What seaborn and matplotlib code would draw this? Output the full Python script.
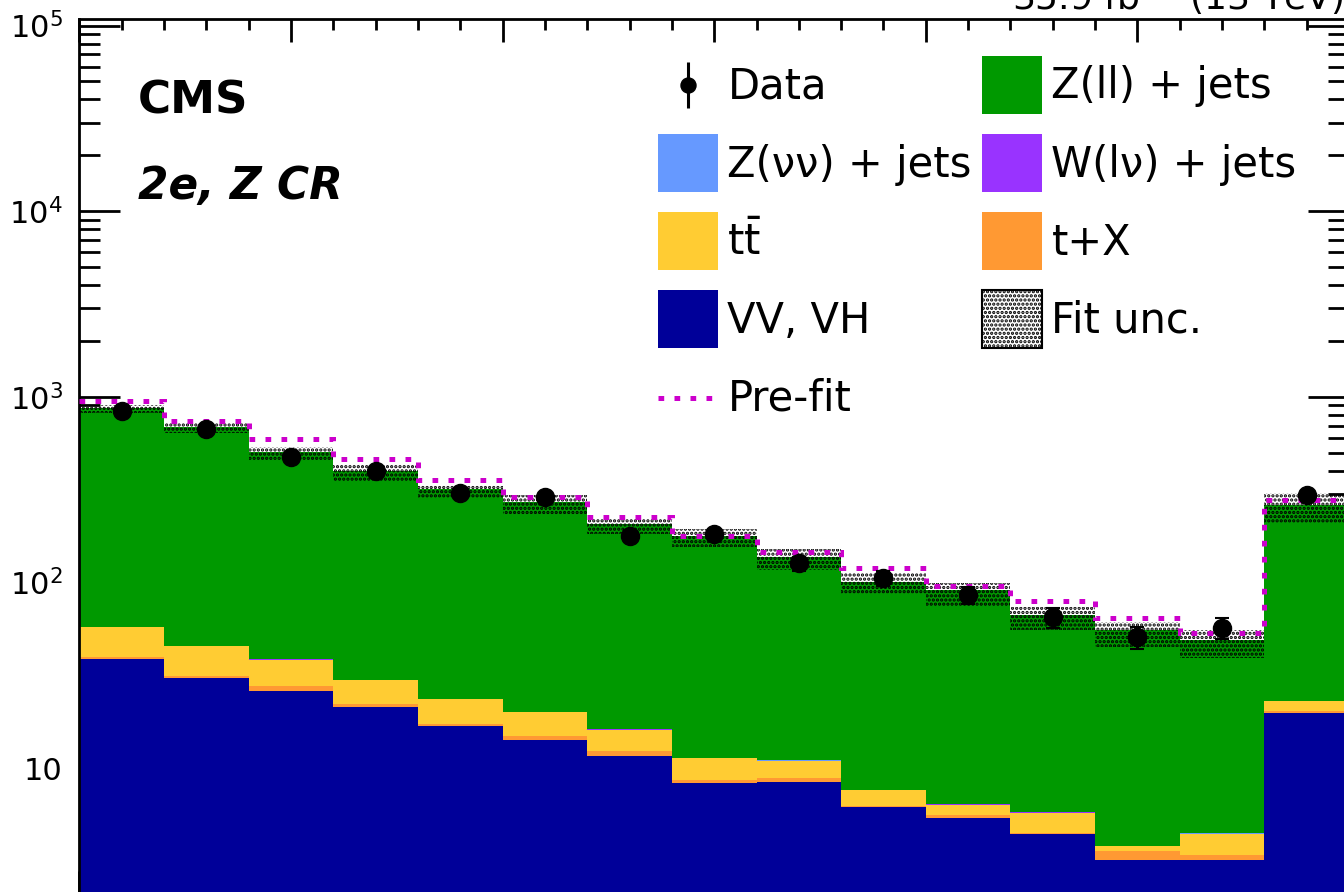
import numpy as np
import pandas as pd
import seaborn as sns
import matplotlib.pyplot as plt
from matplotlib.lines import Line2D
from matplotlib.patches import Patch
from matplotlib.legend_handler import HandlerLine2D
from matplotlib.ticker import FixedLocator, FixedFormatter, LogLocator, MultipleLocator, NullFormatter


# ---- values, one entry per bin (15 bins) ----
vv_vh = [38.6, 30.7, 26.0, 21.4, 16.9, 14.2, 11.7, 8.3, 8.4, 6.2, 5.4, 4.4, 3.2, 3.2, 19.8]
t_x = [1.0, 0.6, 1.6, 0.8, 0.4, 0.8, 0.7, 0.3, 0.5, 0.1, 0.2, 0.1, 0.4, 0.2, 0.5]
ttbar = [17.8, 14.1, 10.8, 7.6, 6.2, 5.1, 3.7, 2.7, 2.1, 1.3, 0.75, 1.25, 0.2, 1.05, 2.7]
w_lnu = [0.2, 0.15, 0.12, 0.1, 0.08, 0.07, 0.06, 0.04, 0.04, 0.03, 0.03, 0.02, 0.01, 0.02, 0.1]
z_nunu = [0.1, 0.08, 0.06, 0.05, 0.04, 0.03, 0.03, 0.02, 0.02, 0.01, 0.01, 0.01, 0.01, 0.01, 0.05]
z_ll = [813, 645, 468, 370, 294, 253, 191, 166, 127, 93, 85, 61, 52, 44.6, 239]

fit_unc_lo = [819, 637, 453, 354, 284, 234, 182, 156, 117, 87, 75, 55.6, 45.2, 39.1, 210]
fit_unc_hi = [905, 721, 539, 430, 335, 296, 219, 194, 151, 113, 100, 74, 61.6, 55.6, 303]
prefit = [954, 742, 591, 461, 356, 289, 226, 179, 147, 120, 96.2, 79.9, 64.7, 53.5, 277.5]

data = [840, 669, 473, 399, 303, 288, 178, 182, 127, 105.5, 85.8, 65.0, 50.8, 57.2, 296]
data_err = [29, 26, 22, 20, 17, 17, 13, 13, 11, 10, 9.3, 8.1, 7.1, 7.6, 17]

ytick_vals = [10, 1e2, 1e3, 1e4, 1e5]
ytick_labels = ["10", "$10^{2}$", "$10^{3}$", "$10^{4}$", "$10^{5}$"]

colors = {
    "Z(ll) + jets": "#009900",
    "W(lν) + jets": "#9933ff",
    "Z(νν) + jets": "#6699ff",
    "tt": "#ffcc33",
    "t+X": "#ff9933",
    "VV, VH": "#000099",
}
# first hue level ends up on top of the seaborn stack
stack_order = ["Z(ll) + jets", "W(lν) + jets", "Z(νν) + jets", "tt", "t+X", "VV, VH"]
stack_values = [z_ll, w_lnu, z_nunu, ttbar, t_x, vv_vh]

n_bins = len(data)
edges = np.arange(n_bins + 1)
centers = edges[:-1] + 0.5

df = pd.concat([pd.DataFrame({"bin": centers, "events": vals, "process": name})
                for name, vals in zip(stack_order, stack_values)], ignore_index=True)


# legend lines sit a bit high by default, put them on the middle of the row
class HandlerCentered(HandlerLine2D):
    def create_artists(self, legend, orig_handle, xdescent, ydescent, width, height, fontsize, trans):
        artists = super().create_artists(legend, orig_handle, xdescent, ydescent,
                                         width, height, fontsize, trans)
        for a in artists:
            a.set_ydata(np.asarray(a.get_ydata()) - ydescent / 2)
        return artists


sns.set_theme(style="ticks")
plt.rcParams["font.family"] = ["DejaVu Sans"]
plt.rcParams["mathtext.fontset"] = "dejavusans"
plt.rcParams["hatch.linewidth"] = 1.6
plt.rcParams.update({"text.color": "black", "axes.labelcolor": "black",
                     "xtick.color": "black", "ytick.color": "black"})

fig = plt.figure(figsize=(13.44, 8.92), dpi=100)
ax = fig.add_axes([0.05908, -0.00224, 0.94464, 0.98094])
ax.set_yscale("log")

# stacked backgrounds
sns.histplot(data=df, x="bin", weights="events", hue="process", hue_order=stack_order,
             multiple="stack", bins=list(edges), element="step", fill=True, alpha=1,
             linewidth=0, palette=colors, legend=False, ax=ax)

# fit uncertainty band, pre-fit line and data
ax.stairs(fit_unc_hi, edges, baseline=fit_unc_lo, fill=True, facecolor="none",
          edgecolor="black", hatch="....", linewidth=0, zorder=3)
prefit_style = dict(color="#cc00cc", linewidth=3.6, linestyle=(0, (1.14, 2.06)))
ax.stairs(prefit, edges, baseline=None, zorder=4, **prefit_style)
ax.errorbar(centers, data, yerr=data_err, fmt="o", color="black", markersize=13,
            elinewidth=2.2, capsize=5, capthick=1.5, zorder=5)

ax.set_xlim(0, n_bins)
ax.set_ylim(2.104, 1.084e5)
ax.set_xlabel("")
ax.set_ylabel("")

ax.xaxis.set_major_locator(MultipleLocator(2.5))
ax.xaxis.set_minor_locator(MultipleLocator(0.5))
ax.yaxis.set_major_locator(FixedLocator(ytick_vals))
ax.yaxis.set_major_formatter(FixedFormatter(ytick_labels))
ax.yaxis.set_minor_locator(LogLocator(base=10, subs=np.arange(2, 10)))
ax.yaxis.set_minor_formatter(NullFormatter())

ax.tick_params(axis="x", which="major", direction="in", length=16.5, width=2,
               top=True, bottom=True, labelbottom=False)
ax.tick_params(axis="x", which="minor", direction="in", length=8, width=2, top=True, bottom=True)
ax.tick_params(axis="y", which="major", direction="in", length=29.5, width=2,
               left=True, right=True, labelsize=22, pad=12)
ax.tick_params(axis="y", which="minor", direction="in", length=15, width=2, left=True, right=True)
for s in ax.spines.values():
    s.set_linewidth(2)
    s.set_color("black")

# labels
fig.text(138 / 1344, 1 - 113.3 / 892, "CMS", fontsize=32.5, fontweight="bold", va="baseline")
fig.text(138 / 1344, 1 - 199 / 892, "2e, Z CR", fontsize=31.5, fontweight="bold",
         style="italic", va="baseline")
fig.text(1343 / 1344, 1 - 10 / 892, r"35.9 fb$^{-1}$ (13 TeV)", fontsize=26,
         ha="right", va="baseline")

# legend in two columns
data_handle = (Line2D([], [], marker="|", markersize=33.6, markeredgewidth=2.2, color="black", linestyle="none"),
               Line2D([], [], marker="o", markersize=10.8, color="black", linestyle="none"))
leg_kw = dict(loc="upper left", bbox_transform=fig.transFigure, frameon=False, fontsize=30,
              handlelength=1.44, handleheight=1.762, labelspacing=0.485, handletextpad=0.22,
              borderpad=0, borderaxespad=0, handler_map={Line2D: HandlerCentered()})

col1_handles = [data_handle,
                Patch(facecolor=colors["Z(νν) + jets"], edgecolor="none"),
                Patch(facecolor=colors["tt"], edgecolor="none"),
                Patch(facecolor=colors["VV, VH"], edgecolor="none"),
                Line2D([], [], **prefit_style)]
col1_labels = ["Data", "Z(νν) + jets", r"t$\bar{\mathrm{t}}$", "VV, VH", "Pre-fit"]
leg1 = ax.legend(col1_handles, col1_labels, bbox_to_anchor=(658.3 / 1344, 1 - 56 / 892), **leg_kw)
ax.add_artist(leg1)

col2_handles = [Patch(facecolor=colors["Z(ll) + jets"], edgecolor="none"),
                Patch(facecolor=colors["W(lν) + jets"], edgecolor="none"),
                Patch(facecolor=colors["t+X"], edgecolor="none"),
                Patch(facecolor="white", edgecolor="black", hatch="....", linewidth=1.5)]
col2_labels = ["Z(ll) + jets", "W(lν) + jets", "t+X", "Fit unc."]
ax.legend(col2_handles, col2_labels, bbox_to_anchor=(982.3 / 1344, 1 - 56 / 892), **leg_kw)

fig.savefig("out.png", dpi=100)
